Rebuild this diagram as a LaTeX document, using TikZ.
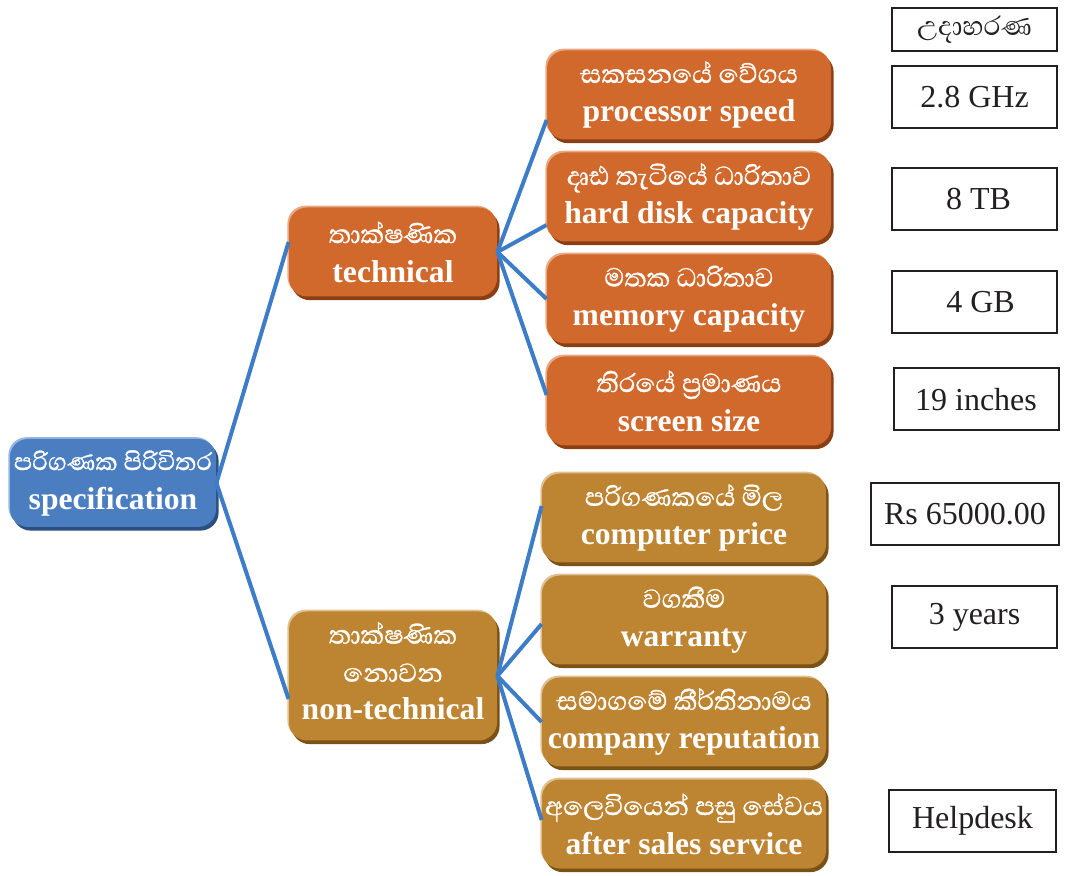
\documentclass[tikz,border=0pt]{standalone}
\usepackage{fontspec}
\setmainfont{Liberation Serif}
\newfontfamily\sinhf[Script=Sinhala, FakeBold=0.9]{Abhaya Libre}
\newfontfamily\sinhr[Script=Sinhala]{Abhaya Libre}
\usetikzlibrary{calc}
\definecolor{techc}{HTML}{D1692C}
\definecolor{techd}{HTML}{8A3E14}
\definecolor{techl}{HTML}{EAA983}
\definecolor{ntc}{HTML}{BD8432}
\definecolor{ntd}{HTML}{7A5218}
\definecolor{ntl}{HTML}{E0C194}
\definecolor{spc}{HTML}{4A7EC0}
\definecolor{spd}{HTML}{2C4F80}
\definecolor{spl}{HTML}{95B8E3}
\definecolor{linec}{HTML}{3D7DC8}
\definecolor{ink}{HTML}{231F20}
\tikzset{
  cbox/.style n args={3}{rounded corners=9pt, text=white, align=center, inner sep=0pt,
    fill=#1,
    preaction={fill=#2, transform canvas={xshift=1.3pt,yshift=-1.8pt}},
    preaction={fill=#3, transform canvas={xshift=-0.8pt,yshift=0.9pt}},
    font=\fontsize{15.8}{19.5}\selectfont},
  techbox/.style={cbox={techc}{techd}{techl}, minimum width=142pt, minimum height=44.5pt},
  ntbox/.style={cbox={ntc}{ntd}{ntl}, minimum width=142pt, minimum height=44.5pt},
  midtech/.style={cbox={techc}{techd}{techl}, minimum width=104pt, minimum height=44.5pt},
  midnt/.style={cbox={ntc}{ntd}{ntl}, minimum width=104pt, minimum height=64.5pt},
  rootbox/.style={cbox={spc}{spd}{spl}, minimum width=103pt, minimum height=44pt},
  exbox/.style={draw=ink, line width=1pt, inner sep=0pt, minimum width=82.5pt, minimum height=31pt,
    text=ink, font=\fontsize{16}{19}\selectfont},
  link/.style={draw=linec, line width=2pt},
}
\newcommand{\sitxt}[1]{{\fontsize{16.6}{19.5}\sinhf #1}}
\begin{document}
\begin{tikzpicture}[x=0.5pt,y=-0.5pt]
\useasboundingbox (0,0) rectangle (1066,876);
\node[rootbox] (spec) at (113,483) {{\fontsize{15.6}{19.5}\sinhf පරිගණක පිරිවිතර}\\\bfseries specification};
\node[midtech] (tech) at (393,252) {\sitxt{තාක්ෂණික}\\\bfseries technical};
\node[midnt, font=\fontsize{15.8}{19}\selectfont] (ntech) at (393,676) {\sitxt{තාක්ෂණික}\\\sitxt{නොවන}\\\bfseries non-technical\rule[-5pt]{0pt}{0pt}};
\node[techbox] (proc) at (689,95) {\sitxt{සකසනයේ වේගය}\\\bfseries processor speed};
\node[techbox] (hd) at (689,197) {\sitxt{දෘඪ තැටියේ ධාරිතාව}\\\bfseries hard disk capacity};
\node[techbox] (mem) at (689,299) {\sitxt{මතක ධාරිතාව}\\\bfseries memory capacity};
\node[techbox] (scr) at (689,401) {\sitxt{තිරයේ ප්‍රමාණය}\\\bfseries screen size};
\node[ntbox] (price) at (684,518) {\sitxt{පරිගණකයේ මිල}\\\bfseries computer price};
\node[ntbox] (war) at (684,620) {\sitxt{වගකීම}\\\bfseries warranty};
\node[ntbox] (rep) at (684,722) {\sitxt{සමාගමේ කීර්තිනාමය}\\\bfseries company reputation};
\node[ntbox] (after) at (684,824) {\sitxt{අලෙවියෙන් පසු සේවය}\\\bfseries after sales service};
% example boxes
\node[exbox, minimum height=21.5pt, font=\fontsize{17}{19}\selectfont] (ud) at (974.5,29.5) {\sinhr උදාහරණ};
\node[exbox] (e1) at (974.5,97) {2.8 GHz};
\node[exbox] (e2) at (974.5,199) {\hspace*{4pt}8 TB};
\node[exbox] (e3) at (974.5,302.5) {\hspace*{6pt}4 GB};
\node[exbox] (e4) at (976,399.5) {19 inches};
\node[exbox, minimum width=94pt] (e5) at (965,514.5) {Rs 65000.00};
\node[exbox] (e6) at (974.5,617) {3 years};
\node[exbox, minimum width=83.5pt] (e7) at (972.5,820.5) {Helpdesk};
% links
\draw[link] (spec.east) -- ([yshift=5pt]tech.west);
\draw[link] (spec.east) -- ([yshift=-11.5pt]ntech.west);
\draw[link] (tech.east) -- ([yshift=-12.5pt]proc.west);
\draw[link] (tech.east) -- ([yshift=-14pt]hd.west);
\draw[link] (tech.east) -- (mem.west);
\draw[link] (tech.east) -- ([yshift=3pt]scr.west);
\draw[link] (ntech.east) -- ([yshift=6pt]price.west);
\draw[link] (ntech.east) -- ([yshift=-2pt]war.west);
\draw[link] (ntech.east) -- (rep.west);
\draw[link] (ntech.east) -- ([yshift=2pt]after.west);
\end{tikzpicture}
\end{document}
